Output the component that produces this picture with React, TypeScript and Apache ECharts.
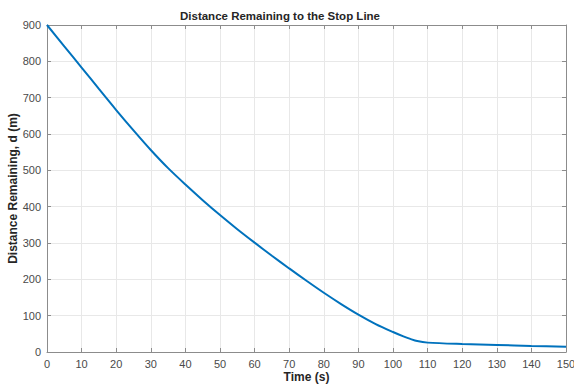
import React, { useEffect, useRef } from "react";
import * as echarts from "echarts";

const timeS = [0, 5, 10, 15, 20, 25, 30, 35, 40, 45, 50, 55, 60, 65, 70, 75, 80, 85, 90, 95, 100, 103, 105, 107, 110, 120, 130, 140, 150];
const distanceM = [900, 841, 783, 724, 666, 610, 556, 506, 461, 418, 377, 338, 301, 265, 230, 196, 163, 132, 103, 77, 55, 43, 36, 30, 25.8, 22, 19.5, 16.8, 14.7];
const titleText = "Distance Remaining to the Stop Line";
const xName = "Time (s)";
const yName = "Distance Remaining, d (m)";

const FONT = "'Liberation Sans', Arial, Helvetica, sans-serif";
const AXIS_COLOR = "#8c8c8c";
const LABEL_COLOR = "#4a4a4a";

export default function App() {
  const ref = useRef<HTMLDivElement>(null);
  useEffect(() => {
    if (!ref.current) return;
    const chart = echarts.init(ref.current, null, { renderer: "svg" });
    const data = timeS.map((t, i) => [t, distanceM[i]]);
    const xBase = {
      type: "value" as const,
      min: 0,
      max: 150,
      interval: 10,
      axisLine: { show: true, onZero: false, lineStyle: { color: AXIS_COLOR, width: 1 } },
      axisTick: { show: true, inside: true, length: 4, lineStyle: { color: AXIS_COLOR } },
    };
    const yBase = {
      type: "value" as const,
      min: 0,
      max: 900,
      interval: 100,
      axisLine: { show: true, onZero: false, lineStyle: { color: AXIS_COLOR, width: 1 } },
      axisTick: { show: true, inside: true, length: 4, lineStyle: { color: AXIS_COLOR } },
    };
    chart.setOption({
      animation: false,
      backgroundColor: "#ffffff",
      title: {
        text: titleText,
        left: 180,
        top: 10,
        padding: 0,
        textStyle: { fontFamily: FONT, fontSize: 11.5, fontWeight: "bold", color: "#262626" },
      },
      grid: { left: 47, right: 8, top: 25, bottom: 35, containLabel: false, outerBoundsMode: "none" },
      xAxis: [
        {
          ...xBase,
          position: "bottom",
          name: xName,
          nameLocation: "middle",
          nameGap: 19,
          nameMoveOverlap: false,
          nameTextStyle: { fontFamily: FONT, fontSize: 12, fontWeight: "bold", color: "#262626", verticalAlign: "top" },
          axisLabel: { show: true, fontFamily: FONT, fontSize: 11, color: LABEL_COLOR, margin: 6 },
          splitLine: { show: true, lineStyle: { color: "#e8e8e8", width: 1 } },
        },
        {
          ...xBase,
          position: "top",
          axisLabel: { show: false },
          splitLine: { show: false },
        },
      ],
      yAxis: [
        {
          ...yBase,
          position: "left",
          name: yName,
          nameLocation: "middle",
          nameGap: 28,
          nameMoveOverlap: false,
          nameTextStyle: { fontFamily: FONT, fontSize: 12, fontWeight: "bold", color: "#262626" },
          axisLabel: { show: true, fontFamily: FONT, fontSize: 11, color: LABEL_COLOR, margin: 6 },
          splitLine: { show: true, lineStyle: { color: "#e8e8e8", width: 1 } },
        },
        {
          ...yBase,
          position: "right",
          axisLabel: { show: false },
          splitLine: { show: false },
        },
      ],
      series: [
        {
          type: "line",
          data,
          xAxisIndex: 0,
          yAxisIndex: 0,
          smooth: 0.3,
          showSymbol: false,
          symbol: "none",
          lineStyle: { color: "#0072BD", width: 2 },
        },
      ],
    });
    return () => chart.dispose();
  }, []);
  return <div ref={ref} style={{ width: 574, height: 387, position: "absolute", left: 0, top: 0 }} />;
}
